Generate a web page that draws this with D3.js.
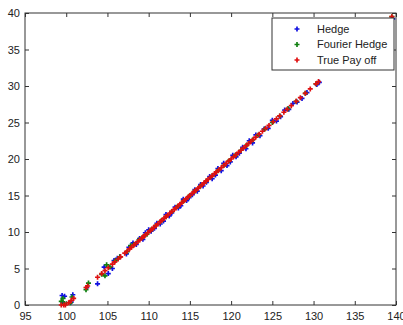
<!DOCTYPE html>
<html>
<head>
<meta charset="utf-8">
<script src="https://cdn.jsdelivr.net/npm/d3@7"></script>
<style>
  body { margin: 0; background: #fff; }
  text { font-family: "Liberation Sans", Arial, sans-serif; font-size: 11px; fill: #222; }
</style>
</head>
<body>
<svg width="403" height="325"></svg>
<script>
// data
var xTicks = [95,100,105,110,115,120,125,130,135,140];
var yTicks = [0,5,10,15,20,25,30,35,40];
var seriesNames = ["Hedge","Fourier Hedge","True Pay off"];
var seriesColors = ["#1010e0","#108010","#e01010"];

var hedgeX = [99.5,99.8,99.6,100.8,100.6,102.5,103.8,104.6,105.1,105.6,105.8,106.2,106.5,107.3,107.6,108.1,108.5,108.9,109.3,109.6,110.0,110.3,110.7,111.0,111.4,111.8,112.1,112.5,112.8,113.2,113.6,113.9,114.2,114.6,114.9,115.3,115.6,115.9,116.3,116.6,117.0,117.4,117.7,118.1,118.4,118.8,119.1,119.5,119.9,120.2,120.6,121.0,121.4,121.8,122.2,122.6,123.0,123.5,124.0,124.5,125.0,125.5,126.0,126.5,127.0,127.5,128.0,128.6,129.2,130.4,130.7,139.6];
var hedgeY = [1.3,1.2,0.3,1.4,0.4,2.4,2.9,5.2,4.3,5.0,6.1,6.4,6.6,7.0,7.9,8.5,8.3,9.1,9.0,9.9,10.3,10.1,10.5,11.2,11.1,11.5,12.4,12.2,12.6,13.4,13.3,13.6,14.5,14.3,14.7,15.1,15.8,15.6,16.5,16.3,16.8,17.6,17.3,17.8,18.7,18.4,19.4,19.1,19.6,20.5,20.3,20.8,21.6,21.4,22.5,22.2,23.3,23.2,24.1,24.2,25.3,25.2,25.8,26.7,26.8,27.6,27.8,28.3,29.1,30.2,30.5,39.2];

var fourierX = [99.4,99.6,99.8,100.7,100.5,102.4,102.7,104.3,104.7,104.9,105.3,106.0,106.5,107.4,107.8,108.2,108.8,109.3,109.8,110.3,110.9,111.5,112.1,112.8,113.5,114.2,114.9,115.6,116.3,117.0,117.7,118.4,119.1,119.8,120.5,121.2,121.9,122.6,123.3,124.1,125.0,125.9,126.9,127.9,129.0,130.3,139.5];
var fourierY = [0.5,0.9,0.2,1.1,0.3,2.1,3.0,4.2,4.0,5.5,5.2,6.1,6.6,7.3,8.1,8.3,8.9,9.3,9.7,10.3,10.9,11.5,12.1,12.8,13.5,14.2,14.9,15.6,16.3,17.0,17.7,18.4,19.1,19.8,20.5,21.2,21.9,22.6,23.3,24.1,25.0,25.9,26.9,27.9,29.0,30.3,39.5];

var trueX = [99.4,99.7,99.9,100.3,100.6,100.9,102.4,102.6,103.8,104.3,104.7,105.1,105.6,105.9,106.3,106.6,107.1,107.4,107.7,107.9,108.2,108.4,108.7,108.9,109.2,109.4,109.6,109.9,110.2,110.4,110.6,110.9,111.1,111.4,111.6,111.9,112.1,112.3,112.6,112.8,113.1,113.3,113.6,113.8,114.0,114.3,114.5,114.8,115.0,115.3,115.5,115.7,116.0,116.2,116.5,116.7,117.0,117.2,117.5,117.7,118.0,118.2,118.5,118.8,119.1,119.4,119.7,120.0,120.3,120.6,120.9,121.2,121.5,121.8,122.1,122.4,122.7,123.0,123.4,123.8,124.2,124.6,125.1,125.5,125.9,126.4,126.8,127.3,127.9,128.4,129.0,129.6,130.3,130.6,139.5];
var trueY = [0,0,0,0.3,0.6,0.9,2.4,2.6,3.8,4.3,4.7,5.1,5.6,5.9,6.3,6.6,7.1,7.4,7.7,7.9,8.2,8.4,8.7,8.9,9.2,9.4,9.6,9.9,10.2,10.4,10.6,10.9,11.1,11.4,11.6,11.9,12.1,12.3,12.6,12.8,13.1,13.3,13.6,13.8,14.0,14.3,14.5,14.8,15.0,15.3,15.5,15.7,16.0,16.2,16.5,16.7,17.0,17.2,17.5,17.7,18.0,18.2,18.5,18.8,19.1,19.4,19.7,20.0,20.3,20.6,20.9,21.2,21.5,21.8,22.1,22.4,22.7,23.0,23.4,23.8,24.2,24.6,25.1,25.5,25.9,26.4,26.8,27.3,27.9,28.4,29.0,29.6,30.3,30.6,39.5];

var svg = d3.select("svg");
var pL = 25, pR = 396, pT = 13, pB = 305;

var x = d3.scaleLinear().domain([95,140]).range([pL,pR]);
var y = d3.scaleLinear().domain([0,40]).range([pB,pT]);

var axisColor = "#333";

// box
svg.append("rect")
    .attr("x",pL).attr("y",pT)
    .attr("width",pR-pL).attr("height",pB-pT)
    .attr("fill","#fff").attr("stroke",axisColor).attr("stroke-width",1);

function styleAxis(g){
    g.select(".domain").remove();
    g.selectAll("line").attr("stroke",axisColor);
}

// inward ticks on all four sides
svg.append("g").attr("transform","translate(0,"+pB+")")
    .call(d3.axisBottom(x).tickValues(xTicks).tickSizeInner(-4).tickSizeOuter(0).tickPadding(7))
    .call(styleAxis);
svg.append("g").attr("transform","translate(0,"+pT+")")
    .call(d3.axisTop(x).tickValues(xTicks).tickSizeInner(-4).tickSizeOuter(0).tickFormat(""))
    .call(styleAxis);
svg.append("g").attr("transform","translate("+pL+",0)")
    .call(d3.axisLeft(y).tickValues(yTicks).tickSizeInner(-4).tickSizeOuter(0).tickPadding(5))
    .call(styleAxis);
svg.append("g").attr("transform","translate("+pR+",0)")
    .call(d3.axisRight(y).tickValues(yTicks).tickSizeInner(-4).tickSizeOuter(0).tickFormat(""))
    .call(styleAxis);

svg.selectAll("g text").attr("font-size",11.5).attr("fill","#222")
    .attr("font-family","Liberation Sans, Arial, sans-serif");

var marker = d3.symbol().type(d3.symbolCross).size(14);

function plot(xs, ys, color){
    svg.append("g").selectAll("path").data(xs).enter().append("path")
        .attr("d", marker)
        .attr("transform", function(d,i){ return "translate("+x(d)+","+y(ys[i])+")"; })
        .attr("fill", color);
}
plot(hedgeX, hedgeY, seriesColors[0]);
plot(fourierX, fourierY, seriesColors[1]);
plot(trueX, trueY, seriesColors[2]);

// legend
var lg = svg.append("g");
lg.append("rect").attr("x",272).attr("y",18).attr("width",122).attr("height",52)
    .attr("fill","#fff").attr("stroke",axisColor);
seriesNames.forEach(function(n,i){
    var yy = 29 + i*15.5;
    lg.append("path").attr("d",marker).attr("transform","translate(297,"+yy+")")
        .attr("fill",seriesColors[i]);
    lg.append("text").attr("x",317).attr("y",yy).attr("dy","0.35em").text(n);
});
</script>
</body>
</html>
